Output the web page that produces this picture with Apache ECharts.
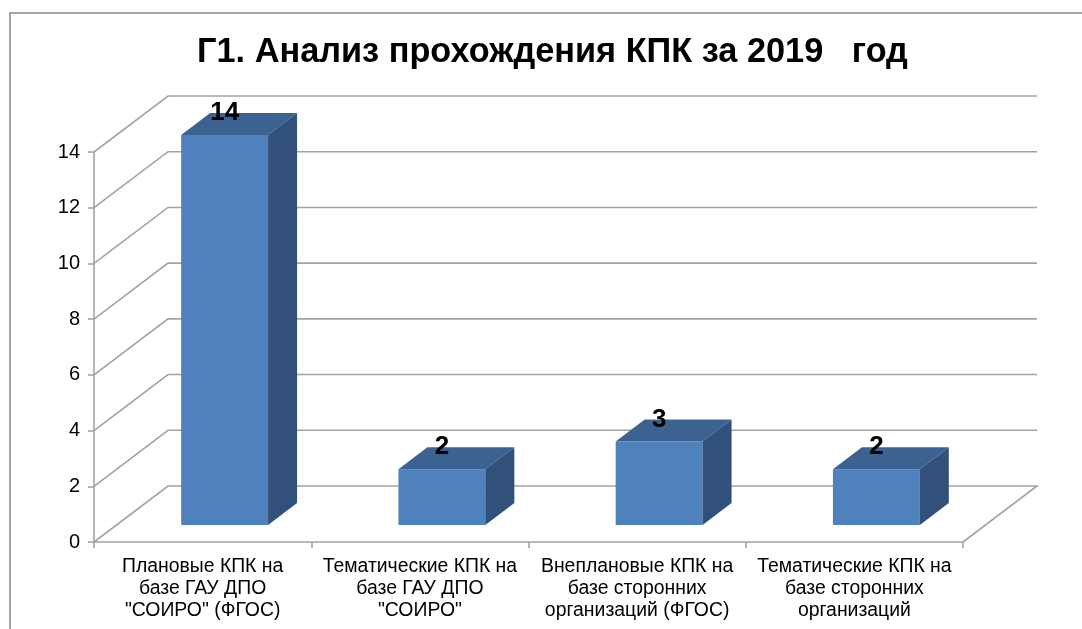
<!DOCTYPE html>
<html><head><meta charset="utf-8">
<style>html,body{margin:0;padding:0;background:#fff;overflow:hidden}#c{width:1082px;height:629px}</style>
<script src="https://cdn.jsdelivr.net/npm/echarts@6/dist/echarts.min.js"></script>
</head><body><div id="c"></div>
<script>
const titleText = 'Г1. Анализ прохождения КПК за 2019   год';
const categories = [
  'Плановые КПК на\nбазе ГАУ ДПО\n"СОИРО" (ФГОС)',
  'Тематические КПК на\nбазе ГАУ ДПО\n"СОИРО"',
  'Внеплановые КПК на\nбазе сторонних\nорганизаций (ФГОС)',
  'Тематические КПК на\nбазе сторонних\nорганизаций'
];
const values = [14, 2, 3, 2];
const yTicks = [0, 2, 4, 6, 8, 10, 12, 14];

const WALL_DX = 74, WALL_DY = 56;      // depth of the floor / walls
const BAR_INSET_DX = 22, BAR_INSET_DY = 17; // bar front face offset from front plane
const BAR_DX = 29, BAR_DY = 22;        // bar depth
const BAR_RATIO = 0.4;
const GRID_COLOR = '#a3a3a3';

function renderWalls(params, api) {
  const cs = params.coordSys;
  const tick = api.value(1);
  const p = api.coord([0, tick]);
  const x0 = cs.x, y = p[1];
  const points = [[x0, y], [x0 + WALL_DX, y - WALL_DY], [x0 + cs.width + WALL_DX, y - WALL_DY]];
  if (tick === 0) points.push([x0 + cs.width, y]);
  return {
    type: 'polyline',
    shape: { points },
    style: { fill: null, stroke: GRID_COLOR, lineWidth: 1.6 }
  };
}

function renderBar(params, api) {
  const band = api.size([1, 0])[0];
  const w = band * BAR_RATIO;
  const c = api.coord([api.value(0), api.value(1)]);
  const base = api.coord([api.value(0), 0]);
  const l = c[0] - w / 2 + BAR_INSET_DX, r = l + w;
  const t = c[1] - BAR_INSET_DY, b = base[1] - BAR_INSET_DY;
  return {
    type: 'group',
    children: [
      { type: 'polygon', shape: { points: [[l, t], [r, t], [r, b], [l, b]] },
        style: { fill: '#4f81bd' } },
      { type: 'polygon', shape: { points: [[l, t], [l + BAR_DX, t - BAR_DY], [r + BAR_DX, t - BAR_DY], [r, t]] },
        style: { fill: '#3c6291' } },
      { type: 'polygon', shape: { points: [[r, t], [r + BAR_DX, t - BAR_DY], [r + BAR_DX, b - BAR_DY], [r, b]] },
        style: { fill: '#31517b' } },
      { type: 'text', style: {
          x: (l + r) / 2, y: t - BAR_DY,
          text: String(api.value(1)),
          fill: '#000', align: 'center', verticalAlign: 'middle',
          font: 'bold 26px "Liberation Sans", Arial, sans-serif' } }
    ]
  };
}

const chart = echarts.init(document.getElementById('c'), null, { renderer: 'canvas' });
chart.setOption({
  animation: false,
  backgroundColor: '#fff',
  title: {
    text: titleText, left: 547.5, top: 31, textAlign: 'center',
    textStyle: { fontFamily: '"Liberation Sans", Arial, sans-serif', fontWeight: 'bold', fontSize: 34.3, color: '#000' }
  },
  graphic: [{
    type: 'rect', z: 0, silent: true,
    shape: { x: 10, y: 13, width: 1300, height: 900 },
    style: { fill: 'none', stroke: '#868686', lineWidth: 1.5 }
  }],
  grid: { left: 94, right: 119, top: 152, bottom: 87, containLabel: false },
  xAxis: {
    type: 'category', data: categories, boundaryGap: true,
    axisLine: { show: true, lineStyle: { color: GRID_COLOR, width: 1.6 } },
    axisTick: { show: true, alignWithLabel: false, length: 6, lineStyle: { color: GRID_COLOR, width: 1.6 } },
    axisLabel: {
      interval: 0, margin: 14, lineHeight: 22, color: '#000', fontSize: 19.4,
      fontFamily: '"Liberation Sans", Arial, sans-serif'
    },
    splitLine: { show: false }
  },
  yAxis: {
    type: 'value', min: 0, max: 14, interval: 2,
    axisLine: { show: true, lineStyle: { color: GRID_COLOR, width: 1.6 } },
    axisTick: { show: true, length: 6, lineStyle: { color: GRID_COLOR, width: 1.6 } },
    axisLabel: { margin: 14, color: '#000', fontSize: 20, fontFamily: '"Liberation Sans", Arial, sans-serif' },
    splitLine: { show: false }
  },
  series: [
    { type: 'custom', name: 'walls', renderItem: renderWalls, clip: false, z: 1, silent: true,
      data: yTicks.map(t => [0, t]), encode: { x: 0, y: 1 } },
    { type: 'custom', name: 'КПК', renderItem: renderBar, clip: false, z: 3, silent: true,
      data: values.map((v, i) => [i, v]), encode: { x: 0, y: 1 } }
  ]
});
</script></body></html>
